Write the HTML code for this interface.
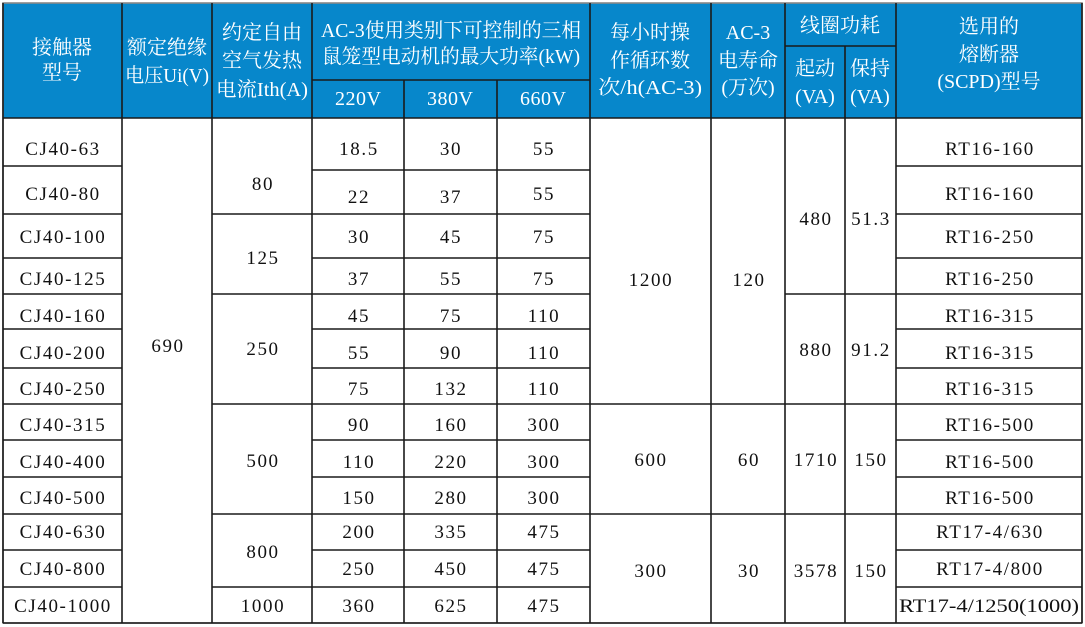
<!DOCTYPE html>
<html><head><meta charset="utf-8"><style>
html,body{margin:0;padding:0;background:#fff}
svg{display:block}
text{font-family:"Liberation Serif","Noto Serif CJK SC","Noto Sans CJK SC",serif;text-anchor:middle}
.h{fill:#fff;font-size:20px}
.d{fill:#111;font-size:19px;letter-spacing:1.6px}
</style></head><body>
<svg width="1085" height="627" viewBox="0 0 1085 627" xmlns="http://www.w3.org/2000/svg">
<rect x="0" y="0" width="1085" height="627" fill="#fff"/>
<rect x="3" y="3" width="1079" height="115" fill="#0787CB"/>
<g stroke="#1a1a1a" stroke-width="1.6" fill="none">
<rect x="3" y="3" width="1079" height="620" stroke="#888"/>
<line x1="3" y1="3" x2="3" y2="623"/>
<line x1="1082" y1="3" x2="1082" y2="623"/>
<line x1="3" y1="623" x2="1082" y2="623"/>
<line x1="3" y1="118" x2="1082" y2="118"/>
<line x1="122" y1="3" x2="122" y2="623"/>
<line x1="212" y1="3" x2="212" y2="623"/>
<line x1="312" y1="3" x2="312" y2="623"/>
<line x1="404" y1="80" x2="404" y2="623"/>
<line x1="497" y1="80" x2="497" y2="623"/>
<line x1="590" y1="3" x2="590" y2="623"/>
<line x1="711" y1="3" x2="711" y2="623"/>
<line x1="785" y1="3" x2="785" y2="623"/>
<line x1="845" y1="46" x2="845" y2="623"/>
<line x1="896" y1="3" x2="896" y2="623"/>
<line x1="312" y1="80" x2="590" y2="80"/>
<line x1="785" y1="46" x2="896" y2="46"/>
<path d="M3 166H122M3 214H122M3 258H122M3 294H122M3 329H122M3 368H122M3 404H122M3 440H122M3 477H122M3 514H122M3 550H122M3 587H122"/>
<path d="M212 214H312M212 294H312M212 404H312M212 514H312M212 587H312"/>
<path d="M312 170H590M312 214H590M312 258H590M312 294H590M312 329H590M312 368H590M312 404H590M312 440H590M312 477H590M312 514H590M312 550H590M312 587H590"/>
<path d="M590 404H785M590 514H785"/>
<path d="M785 294H896M785 404H896M785 514H896"/>
<path d="M896 166H1082M896 214H1082M896 258H1082M896 294H1082M896 329H1082M896 368H1082M896 404H1082M896 440H1082M896 477H1082M896 514H1082M896 550H1082M896 587H1082"/>
</g>
<text class="h" x="62" y="54">接触器</text>
<text class="h" x="62" y="79">型号</text>
<text class="h" x="167" y="54">额定绝缘</text>
<text class="h" x="167" y="82" textLength="84" lengthAdjust="spacingAndGlyphs">电压Ui(V)</text>
<text class="h" x="262" y="39">约定自由</text>
<text class="h" x="262" y="67">空气发热</text>
<text class="h" x="262" y="96" textLength="92" lengthAdjust="spacingAndGlyphs">电流Ith(A)</text>
<text class="h" x="451" y="37" textLength="260" lengthAdjust="spacingAndGlyphs">AC-3使用类别下可控制的三相</text>
<text class="h" x="451" y="63" textLength="258" lengthAdjust="spacingAndGlyphs">鼠笼型电动机的最大功率(kW)</text>
<text class="h" x="358" y="105" textLength="46">220V</text>
<text class="h" x="450" y="105" textLength="46">380V</text>
<text class="h" x="543" y="105" textLength="46">660V</text>
<text class="h" x="650" y="39">每小时操</text>
<text class="h" x="650" y="67">作循环数</text>
<text class="h" x="650" y="94" textLength="104" lengthAdjust="spacingAndGlyphs">次/h(AC-3)</text>
<text class="h" x="748" y="39">AC-3</text>
<text class="h" x="748" y="67">电寿命</text>
<text class="h" x="748" y="94">(万次)</text>
<text class="h" x="840" y="32">线圈功耗</text>
<text class="h" x="815" y="75">起动</text>
<text class="h" x="870" y="75">保持</text>
<text class="h" x="815" y="103">(VA)</text>
<text class="h" x="870" y="103">(VA)</text>
<text class="h" x="989" y="33">选用的</text>
<text class="h" x="989" y="61">熔断器</text>
<text class="h" x="989" y="88">(SCPD)型号</text>
<g transform="translate(1,0)">
<text class="d" x="62" y="155">CJ40-63</text>
<text class="d" x="62" y="200">CJ40-80</text>
<text class="d" x="62" y="243">CJ40-100</text>
<text class="d" x="62" y="285">CJ40-125</text>
<text class="d" x="62" y="322">CJ40-160</text>
<text class="d" x="62" y="359">CJ40-200</text>
<text class="d" x="62" y="395">CJ40-250</text>
<text class="d" x="62" y="431">CJ40-315</text>
<text class="d" x="62" y="468">CJ40-400</text>
<text class="d" x="62" y="504">CJ40-500</text>
<text class="d" x="62" y="538">CJ40-630</text>
<text class="d" x="62" y="575">CJ40-800</text>
<text class="d" x="62" y="612">CJ40-1000</text>
<text class="d" x="167" y="352">690</text>
<text class="d" x="262" y="190">80</text>
<text class="d" x="262" y="264">125</text>
<text class="d" x="262" y="355">250</text>
<text class="d" x="262" y="467">500</text>
<text class="d" x="262" y="558">800</text>
<text class="d" x="262" y="612">1000</text>
<text class="d" x="358" y="155">18.5</text><text class="d" x="450" y="155">30</text><text class="d" x="543" y="155">55</text>
<text class="d" x="358" y="203">22</text><text class="d" x="450" y="203">37</text><text class="d" x="543" y="200">55</text>
<text class="d" x="358" y="243">30</text><text class="d" x="450" y="243">45</text><text class="d" x="543" y="243">75</text>
<text class="d" x="358" y="285">37</text><text class="d" x="450" y="285">55</text><text class="d" x="543" y="285">75</text>
<text class="d" x="358" y="322">45</text><text class="d" x="450" y="322">75</text><text class="d" x="543" y="322">110</text>
<text class="d" x="358" y="359">55</text><text class="d" x="450" y="359">90</text><text class="d" x="543" y="359">110</text>
<text class="d" x="358" y="395">75</text><text class="d" x="450" y="395">132</text><text class="d" x="543" y="395">110</text>
<text class="d" x="358" y="431">90</text><text class="d" x="450" y="431">160</text><text class="d" x="543" y="431">300</text>
<text class="d" x="358" y="468">110</text><text class="d" x="450" y="468">220</text><text class="d" x="543" y="468">300</text>
<text class="d" x="358" y="504">150</text><text class="d" x="450" y="504">280</text><text class="d" x="543" y="504">300</text>
<text class="d" x="358" y="538">200</text><text class="d" x="450" y="538">335</text><text class="d" x="543" y="538">475</text>
<text class="d" x="358" y="575">250</text><text class="d" x="450" y="575">450</text><text class="d" x="543" y="575">475</text>
<text class="d" x="358" y="612">360</text><text class="d" x="450" y="612">625</text><text class="d" x="543" y="612">475</text>
<text class="d" x="650" y="286">1200</text><text class="d" x="748" y="286">120</text>
<text class="d" x="815" y="225">480</text><text class="d" x="870" y="225">51.3</text>
<text class="d" x="815" y="356">880</text><text class="d" x="870" y="356">91.2</text>
<text class="d" x="650" y="466">600</text><text class="d" x="748" y="466">60</text>
<text class="d" x="815" y="466">1710</text><text class="d" x="870" y="466">150</text>
<text class="d" x="650" y="577">300</text><text class="d" x="748" y="577">30</text>
<text class="d" x="815" y="577">3578</text><text class="d" x="870" y="577">150</text>
<text class="d" x="989" y="155">RT16-160</text>
<text class="d" x="989" y="200">RT16-160</text>
<text class="d" x="989" y="243">RT16-250</text>
<text class="d" x="989" y="285">RT16-250</text>
<text class="d" x="989" y="322">RT16-315</text>
<text class="d" x="989" y="359">RT16-315</text>
<text class="d" x="989" y="395">RT16-315</text>
<text class="d" x="989" y="431">RT16-500</text>
<text class="d" x="989" y="468">RT16-500</text>
<text class="d" x="989" y="504">RT16-500</text>
<text class="d" x="989" y="538">RT17-4/630</text>
<text class="d" x="989" y="575">RT17-4/800</text>
</g>
<text class="d" x="989" y="612" textLength="180" lengthAdjust="spacingAndGlyphs" style="letter-spacing:0">RT17-4/1250(1000)</text>
</svg>
</body></html>
